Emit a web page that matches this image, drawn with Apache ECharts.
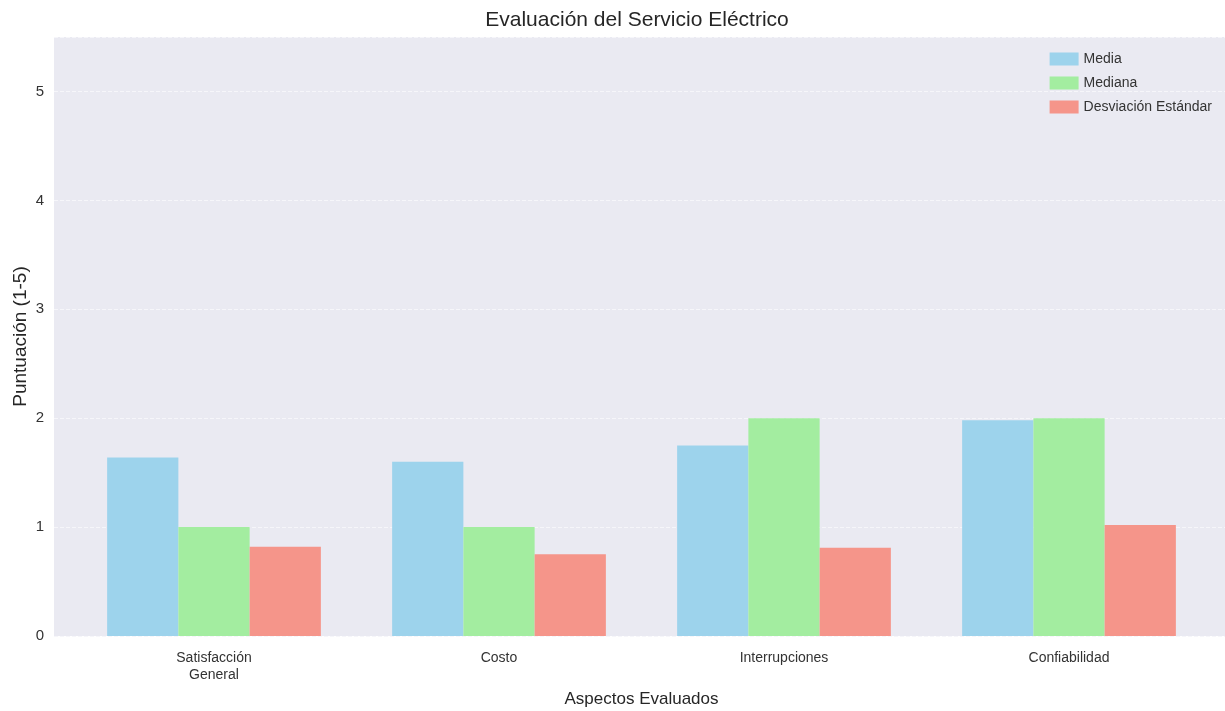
<!DOCTYPE html>
<html>
<head>
<meta charset="utf-8">
<script src="https://cdn.jsdelivr.net/npm/echarts@6/dist/echarts.min.js"></script>
<style>
  html, body { margin: 0; padding: 0; background: #fff; }
  #chart { width: 1225px; height: 711px; }
</style>
</head>
<body>
<div id="chart"></div>
<script>
// datos
var aspectos = ['Satisfacción\nGeneral', 'Costo', 'Interrupciones', 'Confiabilidad'];
var media = [1.64, 1.60, 1.75, 1.98];
var mediana = [1.0, 1.0, 2.0, 2.0];
var desviacion = [0.82, 0.75, 0.81, 1.02];
var yTicks = [0, 1, 2, 3, 4, 5];

var fuente = '"Liberation Sans", Arial, sans-serif';

var chart = echarts.init(document.getElementById('chart'));
var option = {
    animation: false,
    textStyle: { fontFamily: fuente },
    title: {
        text: 'Evaluación del Servicio Eléctrico',
        left: 632, top: 5, textAlign: 'center',
        textStyle: { fontSize: 21, fontWeight: 'normal', color: '#262626', fontFamily: fuente }
    },
    legend: {
        orient: 'vertical',
        right: 8, top: 47,
        itemWidth: 29, itemHeight: 13, itemGap: 10,
        icon: 'rect',
        textStyle: { fontSize: 14, color: '#333', fontFamily: fuente },
        data: ['Media', 'Mediana', 'Desviación Estándar']
    },
    grid: [
        // fondo con lineas horizontales
        { left: 54, right: 0, top: 37, bottom: 75, show: true, backgroundColor: '#EAEAF2',
          borderWidth: 0, outerBoundsMode: 'none', containLabel: false },
        // barras
        { left: 71.5, right: 13.5, top: 37, bottom: 75, outerBoundsMode: 'none', containLabel: false }
    ],
    xAxis: [
        { gridIndex: 0, type: 'value', min: 0, max: 1, show: false },
        {
            gridIndex: 1, type: 'category', data: aspectos,
            axisLine: { show: false }, axisTick: { show: false },
            axisLabel: { fontSize: 14, color: '#333', margin: 14, lineHeight: 17, fontFamily: fuente },
            splitLine: { show: false },
            name: 'Aspectos Evaluados', nameLocation: 'middle', nameGap: 55,
            nameTextStyle: { fontSize: 17, color: '#262626', fontFamily: fuente }
        }
    ],
    yAxis: [
        {
            gridIndex: 0, type: 'value', min: 0, max: 5.5, interval: 1,
            axisLine: { show: false }, axisTick: { show: false },
            axisLabel: {
                fontSize: 15, color: '#333', margin: 10, fontFamily: fuente,
                formatter: function (v) { return yTicks.indexOf(v) >= 0 ? String(v) : ''; }
            },
            splitLine: { show: true, lineStyle: { color: '#F6F6FA', type: 'dashed', width: 1 } },
            name: 'Puntuación (1-5)', nameLocation: 'middle', nameGap: 24,
            nameMoveOverlap: false,
            nameTextStyle: { fontSize: 19, color: '#262626', fontFamily: fuente }
        },
        { gridIndex: 1, type: 'value', min: 0, max: 5.5, show: false }
    ],
    series: [
        { name: 'Media', type: 'bar', xAxisIndex: 1, yAxisIndex: 1, data: media,
          barWidth: '25%', barGap: '0%', itemStyle: { color: '#9DD3EC' } },
        { name: 'Mediana', type: 'bar', xAxisIndex: 1, yAxisIndex: 1, data: mediana,
          barWidth: '25%', barGap: '0%', itemStyle: { color: '#A3EDA0' } },
        { name: 'Desviación Estándar', type: 'bar', xAxisIndex: 1, yAxisIndex: 1, data: desviacion,
          barWidth: '25%', barGap: '0%', itemStyle: { color: '#F5958A' } }
    ]
};
chart.setOption(option);
</script>
</body>
</html>
